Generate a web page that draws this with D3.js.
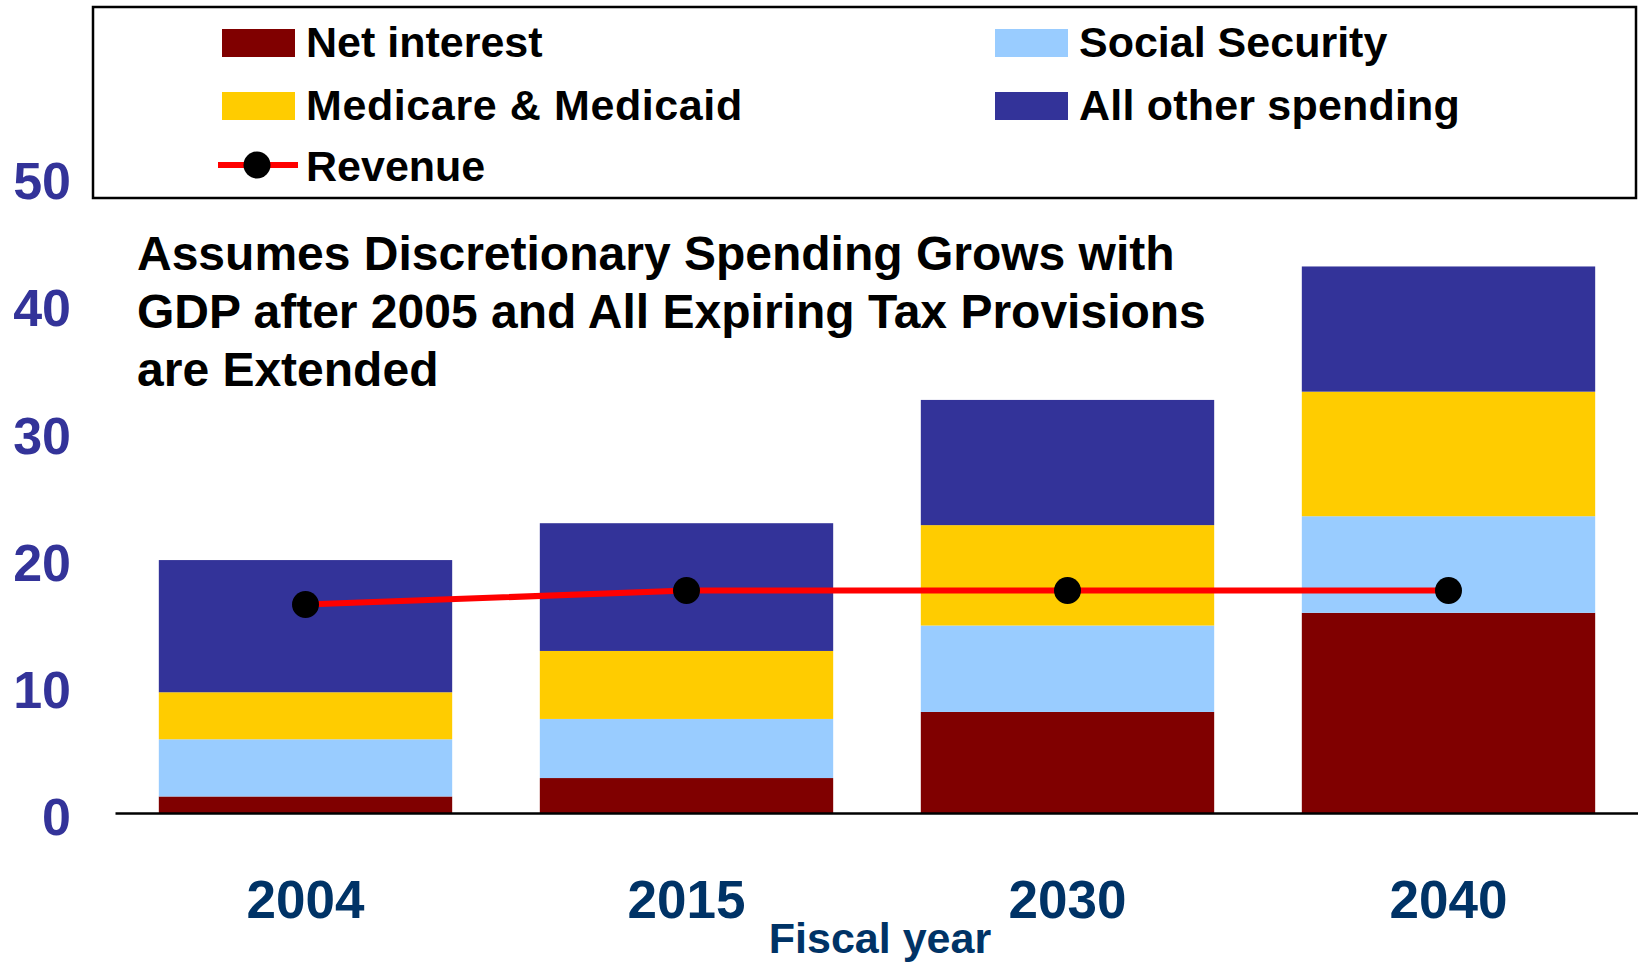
<!DOCTYPE html>
<html>
<head>
<meta charset="utf-8">
<script src="https://cdn.jsdelivr.net/npm/d3@7"></script>
<style>
  html, body { margin: 0; padding: 0; background: #ffffff; }
  svg { display: block; }
  text { font-family: "Liberation Sans", Arial, sans-serif; font-weight: bold; }
</style>
</head>
<body>
<svg id="chart" width="1638" height="964"></svg>
<script>
// ---- Data ----
const years = ["2004", "2015", "2030", "2040"];
const netInterest = [1.3, 2.75, 7.95, 15.75];
const socialSecurity = [4.5, 4.65, 6.8, 7.6];
const medicareMedicaid = [3.7, 5.35, 7.9, 9.8];
const allOther = [10.4, 10.05, 9.85, 9.85];
const revenue = [16.4, 17.5, 17.5, 17.5];
const yTicks = [0, 10, 20, 30, 40, 50];
const seriesNames = ["Net interest", "Social Security", "Medicare & Medicaid", "All other spending"];
const seriesKeys = ["ni", "ss", "mm", "ot"];
const seriesColors = ["#800000", "#99CCFF", "#FFCC00", "#333399"];
const titleLines = [
  "Assumes Discretionary Spending Grows with",
  "GDP after 2005 and All Expiring Tax Provisions",
  "are Extended"
];
const xAxisTitle = "Fiscal year";

// ---- Build table ----
const table = years.map((yr, i) => ({
  year: yr, ni: netInterest[i], ss: socialSecurity[i], mm: medicareMedicaid[i], ot: allOther[i]
}));

const svg = d3.select("#chart");

const x = d3.scaleBand().domain(years).range([115, 1639]).paddingInner(0.23).paddingOuter(0.115);
const y = d3.scaleLinear().domain([0, 50]).range([813, 177.5]);

const stacked = d3.stack().keys(seriesKeys)(table);
const color = d3.scaleOrdinal().domain(seriesKeys).range(seriesColors);

// Bars
svg.append("g").selectAll("g")
  .data(stacked).join("g")
  .attr("fill", d => color(d.key))
  .selectAll("rect")
  .data(d => d).join("rect")
  .attr("x", d => x(d.data.year))
  .attr("width", x.bandwidth())
  .attr("y", d => y(d[1]))
  .attr("height", d => y(d[0]) - y(d[1]));

// X axis
const xAxis = svg.append("g")
  .attr("transform", `translate(0,${y(0)})`)
  .call(d3.axisBottom(x).tickSize(0).tickSizeOuter(0).tickPadding(0));
xAxis.select(".domain").attr("stroke", "#000").attr("stroke-width", 2.5);
xAxis.selectAll("text")
  .attr("y", 105).attr("dy", 0)
  .attr("fill", "#003366")
  .style("font-size", "53px")
  .style("font-family", "'Liberation Sans', Arial, sans-serif")
  .style("font-weight", "bold");

svg.append("text")
  .attr("x", 880).attr("y", 953)
  .attr("text-anchor", "middle")
  .attr("fill", "#003366")
  .style("font-size", "43px")
  .text(xAxisTitle);

// Y axis (labels only)
const yAxis = svg.append("g")
  .attr("transform", "translate(71,0)")
  .call(d3.axisLeft(y).tickValues(yTicks).tickSize(0).tickPadding(0).tickFormat(d3.format("d")));
yAxis.select(".domain").remove();
yAxis.selectAll("text")
  .attr("dy", "0.41em")
  .attr("fill", "#333399")
  .style("font-size", "52px")
  .style("font-family", "'Liberation Sans', Arial, sans-serif")
  .style("font-weight", "bold");

// Revenue line
const xc = d => x(d) + x.bandwidth() / 2;
const revData = years.map((yr, i) => ({ year: yr, v: revenue[i] }));
svg.append("path")
  .datum(revData)
  .attr("fill", "none")
  .attr("stroke", "#FF0000")
  .attr("stroke-width", 6)
  .attr("d", d3.line().x(d => xc(d.year)).y(d => y(d.v)));
svg.append("g").selectAll("circle")
  .data(revData).join("circle")
  .attr("cx", d => xc(d.year))
  .attr("cy", d => y(d.v))
  .attr("r", 13.5)
  .attr("fill", "#000");

// Title
svg.append("g").selectAll("text")
  .data(titleLines).join("text")
  .attr("x", 137)
  .attr("y", (d, i) => 270 + i * 58)
  .attr("fill", "#000")
  .style("font-size", "48px")
  .text(d => d);

// Legend
svg.append("rect")
  .attr("x", 93).attr("y", 7).attr("width", 1543).attr("height", 191)
  .attr("fill", "none").attr("stroke", "#000").attr("stroke-width", 2.5);

const legendItems = [
  { name: seriesNames[0], color: seriesColors[0], col: 0, row: 0, ls: 0 },
  { name: seriesNames[2], color: seriesColors[2], col: 0, row: 1, ls: 0.6 },
  { name: seriesNames[1], color: seriesColors[1], col: 1, row: 0, ls: 0 },
  { name: seriesNames[3], color: seriesColors[3], col: 1, row: 1, ls: 0.2 }
];
const colX = [222, 995];
const rowY = [57, 120, 181];
const lg = svg.append("g");
lg.selectAll("rect.sw")
  .data(legendItems).join("rect")
  .attr("class", "sw")
  .attr("x", d => colX[d.col]).attr("y", d => rowY[d.row] - 28)
  .attr("width", 73).attr("height", 28)
  .attr("fill", d => d.color);
lg.selectAll("text.lt")
  .data(legendItems).join("text")
  .attr("class", "lt")
  .attr("x", d => colX[d.col] + 84).attr("y", d => rowY[d.row])
  .attr("fill", "#000")
  .style("font-size", "43px")
  .style("letter-spacing", d => d.ls + "px")
  .text(d => d.name);

// Revenue legend entry
lg.append("line")
  .attr("x1", 218).attr("x2", 298).attr("y1", 165).attr("y2", 165)
  .attr("stroke", "#FF0000").attr("stroke-width", 6);
lg.append("circle").attr("cx", 257).attr("cy", 165).attr("r", 13.5).attr("fill", "#000");
lg.append("text")
  .attr("x", 306).attr("y", rowY[2])
  .attr("fill", "#000")
  .style("font-size", "43px")
  .text("Revenue");
</script>
</body>
</html>
